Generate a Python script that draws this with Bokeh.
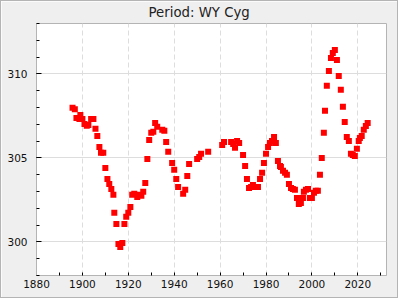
from bokeh.plotting import figure
from bokeh.models import Range1d, SingleIntervalTicker
from bokeh.embed import file_html
from bokeh.resources import INLINE

years = [1895.7, 1896.7, 1897.4, 1898.7, 1899.1, 1900.0, 1900.9, 1901.9, 1902.6, 1903.8,
         1904.8, 1905.7, 1906.5, 1907.4, 1908.1, 1909.1, 1910.0, 1910.9, 1911.7, 1912.6,
         1913.5, 1913.9, 1914.8, 1915.7, 1916.5, 1917.4, 1918.3, 1919.1, 1920.0, 1920.9,
         1921.7, 1922.6, 1923.9, 1924.8, 1925.7, 1926.5, 1927.4, 1928.3, 1929.1, 1930.0,
         1930.9, 1931.7, 1932.6, 1934.8, 1935.7, 1936.5, 1937.4, 1939.1, 1940.0, 1940.9,
         1941.7, 1943.9, 1944.8, 1945.7, 1946.5, 1950.0, 1950.9, 1951.7, 1954.8, 1960.9,
         1961.7, 1964.8, 1965.7, 1966.5, 1967.4, 1968.3, 1970.0, 1970.9, 1971.7, 1972.6,
         1973.5, 1974.3, 1975.2, 1976.5, 1977.4, 1978.3, 1979.1, 1980.0, 1980.9, 1981.7,
         1982.6, 1983.5, 1984.3, 1985.2, 1986.1, 1986.5, 1987.4, 1988.3, 1989.1, 1990.0,
         1990.9, 1991.7, 1992.6, 1993.5, 1994.3, 1995.2, 1996.1, 1996.5, 1997.4, 1998.3,
         1999.1, 2000.0, 2000.9, 2001.7, 2002.6, 2003.5, 2004.3, 2005.2, 2005.7, 2006.5,
         2007.4, 2008.3, 2009.1, 2010.0, 2010.9, 2011.7, 2012.6, 2013.5, 2014.3, 2015.2,
         2016.1, 2017.0, 2017.8, 2018.7, 2019.6, 2020.4, 2020.9, 2021.7, 2022.6, 2023.5,
         2024.3]

periods = [307.98, 307.89, 307.38, 307.32, 307.56, 307.32, 307.02, 306.92, 306.96, 307.32,
           307.32, 306.73, 306.31, 305.65, 305.30, 305.30, 304.40, 303.75, 303.45, 303.15,
           302.80, 301.73, 301.07, 299.88, 299.70, 299.94, 301.07, 301.49, 301.73, 302.08,
           302.80, 302.86, 302.68, 302.80, 302.74, 302.98, 303.51, 304.94, 306.07, 306.49,
           306.55, 307.08, 306.85, 306.67, 306.61, 305.95, 305.36, 304.70, 304.29, 303.75,
           303.27, 302.86, 303.10, 303.93, 304.64, 304.94, 305.06, 305.24, 305.36, 305.77,
           305.95, 305.95, 305.83, 305.60, 306.01, 305.89, 305.18, 304.52, 303.75, 303.21,
           303.27, 303.39, 303.27, 303.27, 303.75, 304.11, 304.70, 305.24, 305.65, 305.89,
           306.01, 306.25, 305.89, 304.82, 304.52, 304.46, 304.23, 304.11, 303.99, 303.45,
           303.21, 303.15, 303.10, 302.62, 302.26, 302.32, 302.62, 302.98, 303.10, 303.15,
           302.62, 302.62, 302.92, 303.04, 303.04, 303.99, 305.00, 306.49, 307.80, 309.29,
           310.18, 310.95, 311.25, 311.43, 310.83, 309.88, 309.05, 308.04, 307.14, 306.25,
           306.01, 305.24, 305.18, 305.12, 305.54, 306.01, 306.19, 306.31, 306.67, 306.90,
           307.08]

title_text = "Period: WY Cyg"
x_range = (1880, 2032.5)
y_range = (298, 313)

p = figure(width=398, height=298, output_backend="svg", toolbar_location=None,
           x_range=Range1d(*x_range), y_range=Range1d(*y_range),
           min_border_left=35, min_border_right=13, min_border_top=22, min_border_bottom=24,
           background_fill_color="white", border_fill_color="#efefef",
           outline_line_color="#b4b4b4", title=title_text)
p.styles = {"border": "1px solid #b4b4b4"}

p.title.align = "left"
p.title.offset = 112
p.title.vertical_align = "top"
p.title.text_font = "DejaVu Sans"
p.title.text_font_size = "13.3px"
p.title.text_font_style = "normal"
p.title.text_color = "#222222"
p.title.standoff = 4

p.xaxis.ticker = SingleIntervalTicker(interval=20, num_minor_ticks=2)
p.yaxis.ticker = SingleIntervalTicker(interval=5, num_minor_ticks=5)

for ax in (p.xaxis[0], p.yaxis[0]):
    ax.axis_line_color = "#b4b4b4"
    ax.major_label_text_font = "DejaVu Sans"
    ax.major_label_text_font_size = "10.5px"
    ax.major_label_text_color = "#111111"
    ax.minor_tick_out = 0
    ax.minor_tick_in = 3
    ax.minor_tick_line_color = "black"
    ax.major_tick_out = 0

p.xaxis.major_tick_in = 0
p.xaxis.major_label_standoff = 4
p.yaxis.major_tick_in = 5
p.yaxis.major_tick_line_color = "black"
p.yaxis.major_label_standoff = 9

p.xgrid.grid_line_color = "#dddddd"
p.xgrid.grid_line_dash = "5 3"
p.ygrid.grid_line_color = "#dddddd"

p.scatter(years, periods, marker="square", size=6, fill_color="red", line_color=None)

open("out.html", "w").write(file_html(p, INLINE))
